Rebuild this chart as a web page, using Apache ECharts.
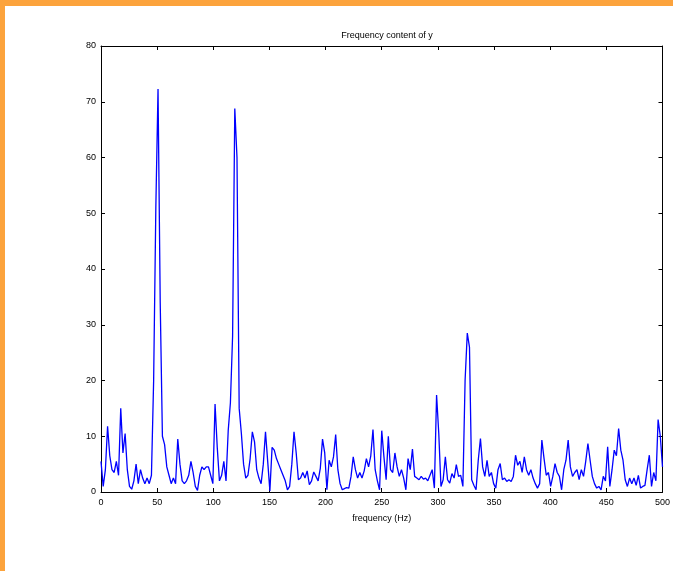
<!DOCTYPE html>
<html>
<head>
<meta charset="utf-8">
<script src="https://cdn.jsdelivr.net/npm/echarts@6/dist/echarts.min.js"></script>
<style>
    html, body { margin: 0; padding: 0; background: #fff; }
    #chart { width: 673px; height: 571px; }
</style>
</head>
<body>
<div id="chart"></div>
<script>
    // spectrum bins, 1000 Hz sampling, 512-point fft -> 257 bins from 0 to 500 Hz
    var freqStep = 1000 / 512;
    var power = [
        5.5, 1, 4, 11.8, 6.5, 4, 3.5, 5.5, 3, 15,
        7, 10.5, 4, 1, 0.5, 2, 5, 1.5, 4, 2.5,
        1.5, 2.5, 1.5, 3, 20, 51, 72.3, 34, 10, 8.5,
        4.5, 3, 1.5, 2.5, 1.5, 9.5, 5, 2, 1.5, 2,
        3, 5.5, 3.5, 1, 0.3, 3, 4.5, 4, 4.5, 4.5,
        3, 1.5, 15.8, 8, 2, 3, 5.5, 2, 11, 16,
        28, 68.8, 60, 15, 10.5, 5, 2.5, 3, 6, 10.8,
        9, 4, 2.5, 1.5, 5, 10.8, 5.5, 0.2, 8, 7.5,
        6, 5, 4, 3, 2, 0.4, 1, 5, 10.8, 7,
        2.2, 2.5, 3.5, 2.5, 3.8, 1.3, 2, 3.6, 2.8, 2,
        4.3, 9.5, 7, 0.4, 5.7, 4.5, 6.3, 10.3, 4, 1.5,
        0.4, 0.6, 0.8, 0.7, 2.8, 6.3, 4, 2.5, 3.5, 2.5,
        3.8, 6, 4.5, 6.5, 11.2, 4, 2, 0.4, 11, 6.3,
        2.2, 10, 4, 3.5, 7, 4.5, 2.8, 4, 2.5, 0.4,
        6, 4, 7.7, 2.8, 2.5, 2.2, 2.8, 2.3, 2.5, 2,
        3, 4, 0.7, 17.4, 10.5, 1, 2.2, 6.3, 2.2, 1.6,
        3.3, 2.5, 4.9, 2.8, 3, 1, 20, 28.5, 26, 2.2,
        1.2, 0.4, 5.7, 9.6, 4.5, 2.8, 5.7, 2.8, 3.5, 1.5,
        0.7, 4, 5.1, 2.2, 2.5, 1.9, 2.2, 1.9, 2.8, 6.6,
        4.8, 5.5, 3.5, 6.3, 4, 3, 4, 2.5, 1.5, 0.7,
        1.5, 9.3, 6, 3, 3.5, 1, 2.8, 5.1, 3.5, 2.8,
        0.4, 4, 5.7, 9.3, 4.5, 2.8, 3.5, 4, 2.2, 4,
        2.8, 5.5, 8.7, 5.7, 2.8, 1.5, 0.7, 1, 0.4, 2.8,
        2, 8.1, 1, 4, 7.5, 6.5, 11.4, 7.5, 5.7, 2.2,
        1, 2.5, 1.5, 2.5, 1.2, 3, 0.7, 1, 1.2, 4,
        6.6, 1, 3.5, 2, 13, 10, 4.5
    ];
    var titleText = 'Frequency content of y';
    var xName = 'frequency (Hz)';

    var points = power.map(function (v, i) { return [i * freqStep, v]; });

    var font = 'Liberation Sans, Arial, sans-serif';

    function makeAxis (extra) {
        var axis = {
            type: 'value',
            scale: false,
            axisLine: { show: true, onZero: false, lineStyle: { color: '#000', width: 1 } },
            axisTick: { show: true, inside: true, length: 4, lineStyle: { color: '#000' } },
            splitLine: { show: false }
        };
        return Object.assign(axis, extra);
    }

    var chart = echarts.init(document.getElementById('chart'));
    chart.setOption({
        animation: false,
        backgroundColor: '#fff',
        title: {
            text: titleText,
            left: 382,
            top: 26,
            textAlign: 'center',
            textStyle: { fontFamily: font, fontSize: 9, fontWeight: 'normal', color: '#000' }
        },
        grid: { left: 101, right: 10, top: 46, bottom: 79 },
        xAxis: [
            makeAxis({
                min: 0, max: 500, interval: 50, position: 'bottom',
                name: xName, nameLocation: 'middle', nameGap: 22,
                nameTextStyle: { fontFamily: font, fontSize: 9, color: '#000' },
                axisLabel: { fontFamily: font, fontSize: 9, color: '#000', margin: 6 }
            }),
            makeAxis({
                min: 0, max: 500, interval: 50, position: 'top',
                axisLabel: { show: false }
            })
        ],
        yAxis: [
            makeAxis({
                min: 0, max: 80, interval: 10, position: 'left',
                axisLabel: { fontFamily: font, fontSize: 9, color: '#000', margin: 5 }
            }),
            makeAxis({
                min: 0, max: 80, interval: 10, position: 'right',
                axisLabel: { show: false }
            })
        ],
        graphic: [
            { type: 'rect', shape: { x: 0, y: 0, width: 673, height: 6 }, style: { fill: '#fca33c' } },
            { type: 'rect', shape: { x: 0, y: 0, width: 5, height: 571 }, style: { fill: '#fca33c' } }
        ],
        series: [
            {
                type: 'line',
                xAxisIndex: 0,
                yAxisIndex: 0,
                data: points,
                showSymbol: false,
                lineStyle: { color: '#0000ff', width: 1.3 }
            },
            {
                // empty series so the frame axes on top and right get drawn
                type: 'line',
                xAxisIndex: 1,
                yAxisIndex: 1,
                data: [],
                showSymbol: false
            }
        ]
    });
</script>
</body>
</html>
